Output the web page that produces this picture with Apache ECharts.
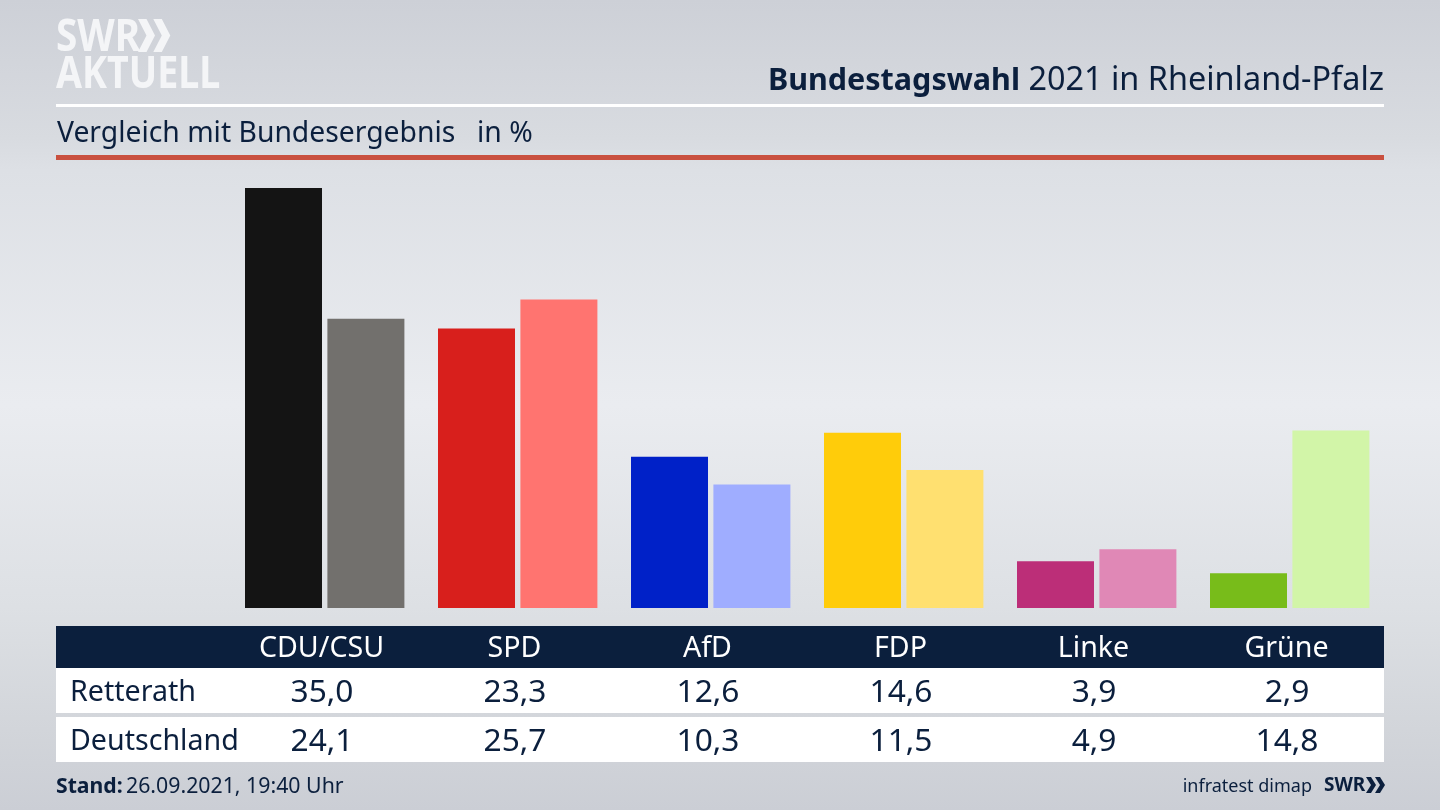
<!DOCTYPE html>
<html>
<head>
<meta charset="utf-8">
<title>Bundestagswahl 2021</title>
<script src="https://cdn.jsdelivr.net/npm/echarts@6/dist/echarts.min.js"></script>
<style>
html, body { margin: 0; padding: 0; background: #d6d9df; }
#main { width: 1440px; height: 810px; }
</style>
</head>
<body>
<div id="main"></div>
<script>
const parties = ['CDU/CSU', 'SPD', 'AfD', 'FDP', 'Linke', 'Grüne']
const retterath = [35.0, 23.3, 12.6, 14.6, 3.9, 2.9]
const deutschland = [24.1, 25.7, 10.3, 11.5, 4.9, 14.8]
const colorsDark = ['#141414', '#d81f1c', '#0021c8', '#ffcc0a', '#bc2e78', '#78bc1a']
const colorsLight = ['#72706d', '#ff7470', '#9fadff', '#ffe070', '#e088b6', '#d2f5a8']

const FONT = '"Noto Sans", sans-serif'
const NAVY = '#0b1f3d'

const fmt = v => v.toFixed(1).replace('.', ',')

const rect = (x, y, width, height, fill) => ({
    type: 'rect', silent: true, shape: { x, y, width, height }, style: { fill },
})

const text = (x, y, value, size, fill, align = 'left', weight = 'normal') => ({
    type: 'text', silent: true, x, y,
    style: { text: value, fill, align, verticalAlign: 'middle', font: `${weight} ${size}px ${FONT}` },
})

const chevrons = (x, y, h, w, fill) => [0, 1].map(i => ({
    type: 'polygon', silent: true,
    shape: { points: [
        [x + i * w * 0.9, y], [x + i * w * 0.9 + w * 0.5, y],
        [x + i * w * 0.9 + w, y + h / 2],
        [x + i * w * 0.9 + w * 0.5, y + h], [x + i * w * 0.9, y + h],
        [x + i * w * 0.9 + w * 0.5, y + h / 2],
    ] },
    style: { fill },
}))

// logo letters are taller than the font
const logoText = (y, value, scaleX) => ({
    ...text(0, 0, value, 38, '#f4f5f7', 'left', 'bold'),
    x: 56, y, scaleX, scaleY: 1.18,
})

// table under the bars
const colX = parties.map((p, i) => 321 + 193 * i)
const tableParts = [
    rect(56, 626, 1328, 42, NAVY),
    rect(56, 668, 1328, 45, '#ffffff'),
    rect(56, 717, 1328, 45, '#ffffff'),
    text(70, 693, 'Retterath', 28.6, NAVY),
    text(70, 742, 'Deutschland', 28.6, NAVY),
]
parties.forEach((p, i) => {
    tableParts.push(text(colX[i] + 0.5, 649, p, 28.6, '#ffffff', 'center'))
    tableParts.push(text(colX[i] + 1, 693, fmt(retterath[i]), 31.7, NAVY, 'center'))
    tableParts.push(text(colX[i] + 1, 742, fmt(deutschland[i]), 31.7, NAVY, 'center'))
})

const chart = echarts.init(document.getElementById('main'), null, { renderer: 'canvas' })

chart.setOption({
    animation: false,
    backgroundColor: {
        type: 'linear', x: 0, y: 0, x2: 0, y2: 1,
        colorStops: [
            { offset: 0, color: '#cdd0d7' },
            { offset: 0.17, color: '#d8dbe0' },
            { offset: 0.21, color: '#dde0e5' },
            { offset: 0.5, color: '#eaecf0' },
            { offset: 0.75, color: '#dde0e4' },
            { offset: 0.9, color: '#d2d5da' },
            { offset: 1, color: '#cbced5' },
        ],
    },
    grid: { left: 228.2, top: 188, width: 1158, height: 420 },
    xAxis: {
        type: 'category',
        data: parties,
        axisLine: { show: false },
        axisTick: { show: false },
        axisLabel: { show: false },
    },
    yAxis: { type: 'value', min: 0, max: 35, show: false },
    series: [
        {
            type: 'bar', name: 'Retterath', barWidth: 77, barGap: '7%',
            data: retterath.map((v, i) => ({ value: v, itemStyle: { color: colorsDark[i] } })),
        },
        {
            type: 'bar', name: 'Deutschland', barWidth: 77,
            data: deutschland.map((v, i) => ({ value: v, itemStyle: { color: colorsLight[i] } })),
        },
    ],
    graphic: [
        rect(56, 104, 1328, 3, '#ffffff'),
        rect(56, 155, 1328, 5, '#c9503f'),
        logoText(38, 'SWR', 1.02),
        ...chevrons(138, 19, 33, 17, '#f4f5f7'),
        logoText(75, 'AKTUELL', 0.99),
        text(1020, 81, 'Bundestagswahl', 30.5, NAVY, 'right', 'bold'),
        text(1384, 81, '2021 in Rheinland-Pfalz', 32.4, NAVY, 'right'),
        text(57, 134, 'Vergleich mit Bundesergebnis', 28.3, NAVY),
        text(477, 134, 'in %', 28.3, NAVY),
        ...tableParts,
        text(56, 787, 'Stand:', 21.2, NAVY, 'left', 'bold'),
        text(126, 787, '26.09.2021, 19:40 Uhr', 21.3, NAVY),
        text(1312, 787, 'infratest dimap', 18, NAVY, 'right'),
        text(1324, 786, 'SWR', 19, NAVY, 'left', 'bold'),
        ...chevrons(1366, 777, 16, 10, NAVY),
    ],
})
</script>
</body>
</html>
